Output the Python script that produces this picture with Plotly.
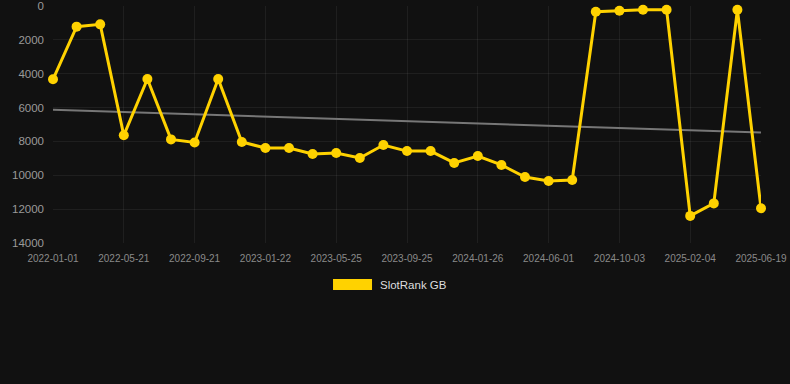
import numpy as np
import plotly.graph_objects as go

dates = [
    "2022-01-01", "2022-02-14", "2022-04-02", "2022-05-21", "2022-06-30", "2022-08-11",
    "2022-09-21", "2022-11-01", "2022-12-12", "2023-01-22", "2023-03-04", "2023-04-14",
    "2023-05-25", "2023-07-05", "2023-08-15", "2023-09-25", "2023-11-05", "2023-12-16",
    "2024-01-26", "2024-03-08", "2024-04-20", "2024-06-01", "2024-07-12", "2024-08-23",
    "2024-10-03", "2024-11-13", "2024-12-25", "2025-02-04", "2025-03-19", "2025-05-04",
    "2025-06-19",
]
rank = [
    4330, 1220, 1085, 7640, 4310, 7880, 8060, 4310, 8030, 8390, 8390, 8740,
    8680, 8980, 8210, 8570, 8570, 9270, 8860, 9390, 10100, 10340, 10280, 337,
    278, 219, 219, 12400, 11660, 219, 11950,
]
tick_labels = dates[::3]
y_ticks = [0, 2000, 4000, 6000, 8000, 10000, 12000, 14000]
series_name = "SlotRank GB"

idx = np.arange(len(rank))
slope, intercept = np.polyfit(idx, rank, 1)
trend = [intercept, intercept + slope * idx[-1]]

fig = go.Figure()
fig.add_trace(go.Scatter(
    x=[dates[0], dates[-1]], y=trend, mode="lines",
    line=dict(color="#777777", width=2), showlegend=False, hoverinfo="skip",
))
fig.add_trace(go.Scatter(
    x=dates, y=rank, mode="lines+markers", name=series_name,
    line=dict(color="#FFD200", width=3),
    marker=dict(color="#FFD200", size=10),
    cliponaxis=False, showlegend=False,
))

grid = "rgba(255,255,255,0.06)"
fig.update_layout(
    width=790, height=384,
    margin=dict(l=53, r=29, t=6, b=141),
    paper_bgcolor="#111111", plot_bgcolor="#111111",
    font=dict(family="Liberation Sans, Arial, sans-serif"),
    showlegend=False,
)
fig.update_xaxes(
    type="category", categoryorder="array", categoryarray=dates,
    range=[0, len(dates) - 1],
    tickvals=tick_labels, ticktext=tick_labels,
    tickfont=dict(size=10, color="#8a8a8a"),
    showgrid=True, gridcolor=grid, zeroline=False, showline=False,
    ticks="", ticklabelstandoff=8, automargin=False,
)
fig.update_yaxes(
    range=[14000, 0], tickvals=y_ticks, ticktext=[str(v) for v in y_ticks],
    tickfont=dict(size=11.5, color="#9a9a9a"),
    showgrid=True, gridcolor=grid, zeroline=False, showline=False,
    ticks="", ticklabelstandoff=8, automargin=False,
)

# legend drawn as shape + text
fig.add_shape(type="rect", xref="paper", yref="paper",
              x0=0.3955, x1=0.4506, y0=-0.1983, y1=-0.1519,
              fillcolor="#FFD200", line=dict(width=0))
fig.add_annotation(xref="paper", yref="paper", x=0.459, y=-0.1772,
                   xanchor="left", yanchor="middle", text=series_name,
                   showarrow=False, font=dict(size=11.5, color="#dddddd"))

fig.write_html(
    "out.html",
    config={"displayModeBar": False},
    post_script="document.body.style.margin='0';document.body.style.background='#111111';",
)
